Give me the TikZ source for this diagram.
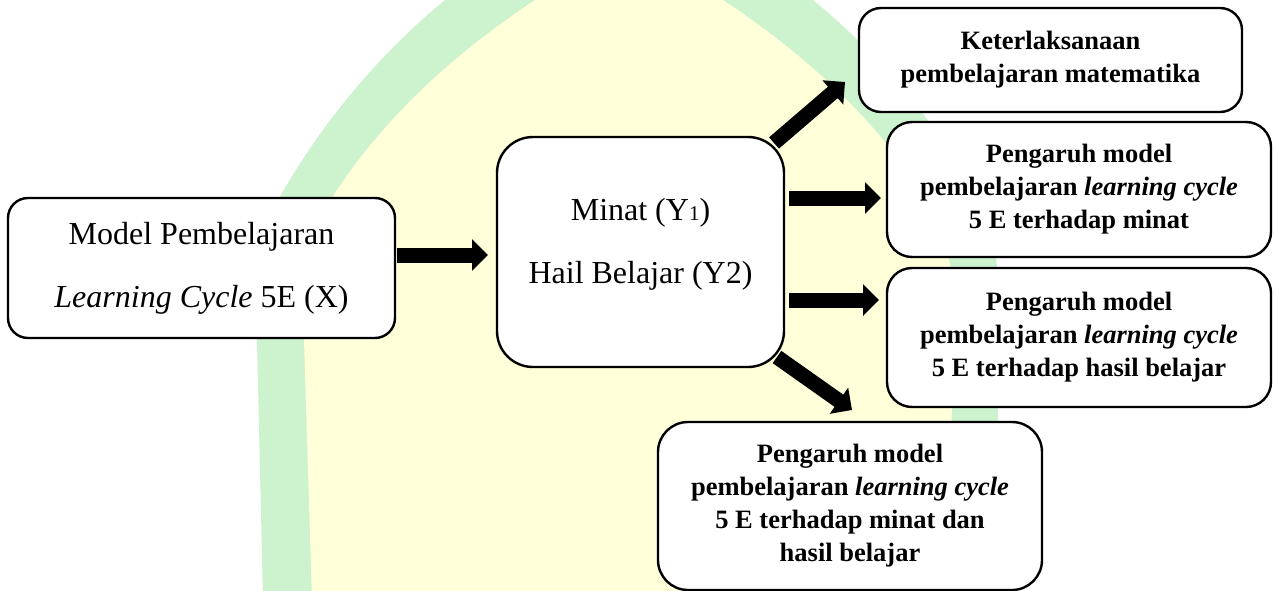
\documentclass[tikz,border=0pt]{standalone}
\usepackage{fontspec}
\setmainfont{Liberation Serif}
\usetikzlibrary{arrows.meta}
\definecolor{wmgreen}{RGB}{205,243,206}
\definecolor{wmyellow}{RGB}{255,255,217}
\begin{document}
\begin{tikzpicture}[x=1pt,y=-1pt,
  box/.style={draw=black, line width=2.4pt, fill=white, inner sep=0pt, align=center},
  bigtext/.style={font=\fontsize{32}{63}\selectfont},
  smalltext/.style={font=\fontsize{26.5}{33}\selectfont\bfseries},
  blockarr/.style={line width=15pt, -{Triangle[length=16pt,width=31pt]}}
]
\useasboundingbox (0,0) rectangle (1274,591);
% watermark
\begin{scope}
\clip (0,0) rectangle (1274,591);
\fill[wmgreen] (263,600) -- (257,340) .. controls (255,260) and (262,230) .. (282,193)
  .. controls (330,110) and (390,45) .. (445,0) -- (445,-10) -- (813,-10) -- (813,0)
  .. controls (868,45) and (928,110) .. (976,193) .. controls (996,230) and (999,260) .. (999,340)
  -- (996,600) -- cycle;
\fill[wmyellow] (312,600) -- (304,340) .. controls (302,270) and (312,230) .. (335,193)
  .. controls (390,110) and (460,50) .. (535,0) -- (535,-10) -- (723,-10) -- (723,0)
  .. controls (798,50) and (868,110) .. (923,193) .. controls (946,230) and (956,270) .. (954,340)
  -- (946,600) -- cycle;
\end{scope}
% boxes
\node[box, rounded corners=20pt, minimum width=387pt, minimum height=140pt, bigtext] (X) at (201.5,268)
  {Model Pembelajaran\\\textit{Learning Cycle} 5E (X)};
\node[box, rounded corners=36pt, minimum width=287pt, minimum height=230pt, bigtext] (Y) at (640.5,252)
  {Minat (Y{\fontsize{21}{21}\selectfont 1})\\Hail Belajar (Y2)\rule[-23pt]{0pt}{23pt}};
\node[box, rounded corners=22pt, minimum width=383pt, minimum height=104pt, smalltext] (K) at (1050.5,60)
  {Keterlaksanaan\\pembelajaran matematika};
\node[box, rounded corners=25pt, minimum width=384pt, minimum height=135pt, smalltext] (P1) at (1079,189.5)
  {Pengaruh model\\pembelajaran \textit{learning cycle}\\5 E terhadap minat};
\node[box, rounded corners=25pt, minimum width=384pt, minimum height=139pt, smalltext] (P2) at (1079,337.5)
  {Pengaruh model\\pembelajaran \textit{learning cycle}\\5 E terhadap hasil belajar};
\node[box, rounded corners=30pt, minimum width=384pt, minimum height=168pt, smalltext] (P3) at (850,506)
  {Pengaruh model\\pembelajaran \textit{learning cycle}\\5 E terhadap minat dan\\hasil belajar};
% arrows
\coordinate (xa) at (397,255);  \coordinate (ya) at (488,255);
\coordinate (yk) at (774,143);  \coordinate (ka) at (845,82);
\coordinate (y1) at (789,198);  \coordinate (p1a) at (881,198);
\coordinate (y2) at (789,300);  \coordinate (p2a) at (879,300);
\coordinate (y3) at (777,357);  \coordinate (p3a) at (852,410);
\draw[blockarr] (xa) -- (ya);
\draw[blockarr] (yk) -- (ka);
\draw[blockarr] (y1) -- (p1a);
\draw[blockarr] (y2) -- (p2a);
\draw[blockarr] (y3) -- (p3a);
\end{tikzpicture}
\end{document}
